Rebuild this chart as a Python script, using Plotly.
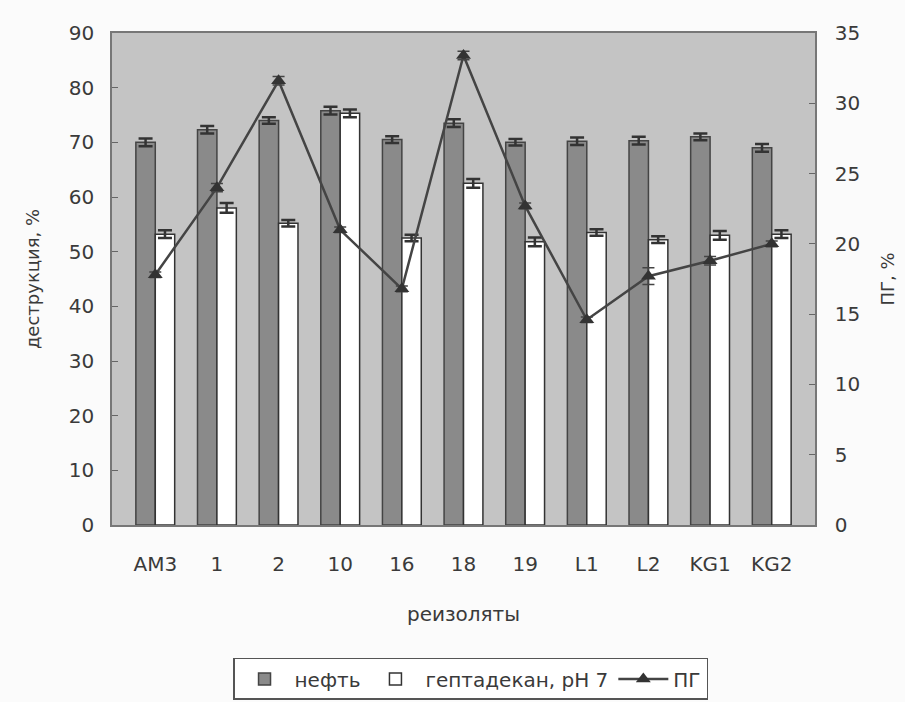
import plotly.graph_objects as go

# Isolates and measured values
isolates = ["AM3", "1", "2", "10", "16", "18", "19", "L1", "L2", "KG1", "KG2"]
oil = [70, 72.3, 74, 75.8, 70.5, 73.5, 70, 70.2, 70.3, 71, 69]
oil_err = [0.7, 0.7, 0.6, 0.7, 0.6, 0.7, 0.6, 0.7, 0.7, 0.6, 0.7]
heptadecane = [53.2, 58, 55.2, 75.3, 52.5, 62.5, 51.8, 53.5, 52.2, 53, 53.2]
heptadecane_err = [0.7, 0.9, 0.6, 0.7, 0.6, 0.8, 0.8, 0.6, 0.6, 0.8, 0.7]
pg = [17.8, 24, 31.6, 21, 16.8, 33.4, 22.7, 14.6, 17.7, 18.8, 20]
pg_err = [0.2, 0.3, 0.3, 0.2, 0.2, 0.3, 0.2, 0.2, 0.6, 0.3, 0.2]

ink = "#3a3a3a"
font_family = "DejaVu Sans, Liberation Sans, Arial, sans-serif"

fig = go.Figure()

fig.add_trace(go.Bar(
    x=isolates, y=oil, name="нефть",
    marker=dict(color="#8a8a8a", line=dict(color="#444444", width=1.5)),
    error_y=dict(type="data", array=oil_err, color="#333333", thickness=2.5, width=7),
))
fig.add_trace(go.Bar(
    x=isolates, y=heptadecane, name="гептадекан, pH 7",
    marker=dict(color="#ffffff", line=dict(color="#333333", width=1.5)),
    error_y=dict(type="data", array=heptadecane_err, color="#333333", thickness=2.5, width=7),
))
fig.add_trace(go.Scatter(
    x=isolates, y=pg, name="ПГ", yaxis="y2", mode="lines+markers",
    line=dict(color="#444444", width=2.5),
    marker=dict(symbol="triangle-up", size=13, color="#333333"),
    error_y=dict(type="data", array=pg_err, color="#444444", thickness=1.5, width=6),
))

fig.update_layout(
    width=905, height=702,
    margin=dict(l=112, r=90, t=33, b=177, autoexpand=False),
    paper_bgcolor="#fbfbfb",
    plot_bgcolor="#c4c4c4",
    font=dict(family=font_family, size=20, color=ink),
    barmode="group",
    bargap=0.37,
    bargroupgap=0,
    showlegend=True,
    legend=dict(
        orientation="h", x=0.51, xanchor="center",
        yref="container", y=0.003, yanchor="bottom",
        bordercolor="#555555", borderwidth=1.5, bgcolor="#ffffff",
        font=dict(size=20, color=ink), itemwidth=50, traceorder="normal",
    ),
    xaxis=dict(
        showline=True, linecolor="#777777", linewidth=1.5, mirror=True,
        ticks="", tickfont=dict(size=20), ticklabelstandoff=20,
        title=dict(text="реизоляты", font=dict(size=20), standoff=32),
    ),
    yaxis=dict(
        range=[0, 90], dtick=10, showgrid=False, zeroline=False,
        showline=True, linecolor="#777777", linewidth=1.5,
        ticks="inside", ticklen=6, tickcolor="#666666",
        tickfont=dict(size=20), ticklabelstandoff=12,
        title=dict(text="деструкция, %", font=dict(size=18), standoff=24),
    ),
    yaxis2=dict(
        range=[0, 35], dtick=5, overlaying="y", side="right", showgrid=False,
        zeroline=False, showline=True, linecolor="#777777", linewidth=1.5,
        ticks="inside", ticklen=6, tickcolor="#666666",
        tickfont=dict(size=20), ticklabelstandoff=14,
        title=dict(text="ПГ, %", font=dict(size=18), standoff=22),
    ),
)

fig.write_html("out.html")
